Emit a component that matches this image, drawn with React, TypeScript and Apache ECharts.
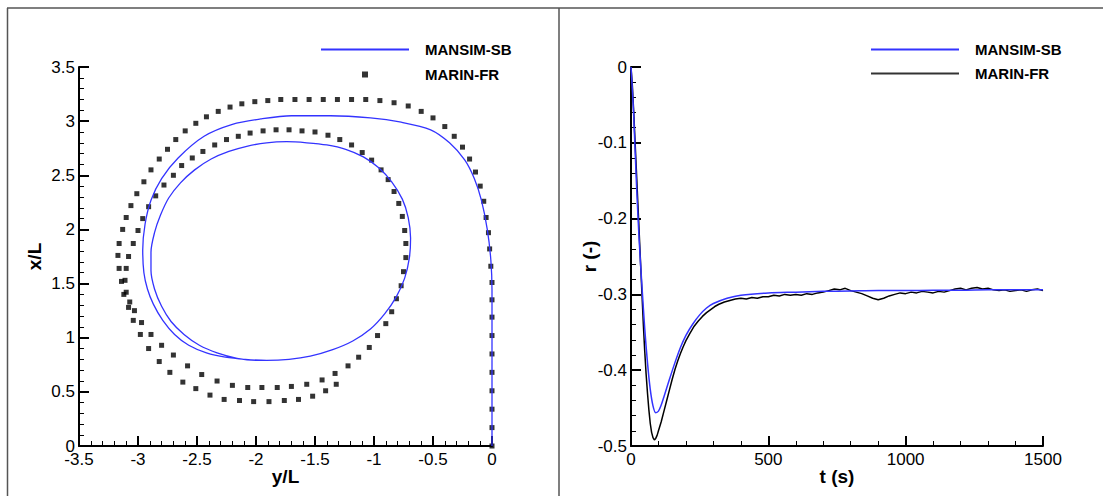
import React, { useEffect, useRef } from "react";
import * as echarts from "echarts";

// Left chart: turning circle trajectory, points as [y/L, x/L]
const mansimTraj: number[][] = [
  [0, 0], [0, 0.3], [0, 0.6], [0, 0.9], [0, 1.2], [0, 1.44], [-0.01, 1.72], [-0.04, 2.0], [-0.09, 2.27],
  [-0.15, 2.47], [-0.23, 2.64], [-0.36, 2.8], [-0.52, 2.92], [-0.77, 2.99], [-1.03, 3.03], [-1.37, 3.05],
  [-1.7, 3.05], [-1.96, 3.02], [-2.2, 2.97], [-2.44, 2.86], [-2.66, 2.66], [-2.8, 2.47], [-2.89, 2.27],
  [-2.94, 2.05], [-2.96, 1.81], [-2.95, 1.6], [-2.92, 1.45], [-2.87, 1.31], [-2.79, 1.16], [-2.69, 1.03],
  [-2.57, 0.93], [-2.42, 0.86], [-2.26, 0.82], [-2.09, 0.8], [-1.91, 0.79], [-1.72, 0.8], [-1.54, 0.83],
  [-1.35, 0.89], [-1.18, 0.97], [-1.03, 1.08], [-0.91, 1.22], [-0.81, 1.38], [-0.74, 1.55], [-0.7, 1.74],
  [-0.69, 1.92], [-0.71, 2.11], [-0.76, 2.28], [-0.85, 2.44], [-0.96, 2.57], [-1.09, 2.67], [-1.24, 2.74],
  [-1.4, 2.78], [-1.57, 2.8], [-1.74, 2.81], [-1.91, 2.8], [-2.07, 2.77], [-2.23, 2.72], [-2.38, 2.65],
  [-2.52, 2.55], [-2.64, 2.43], [-2.74, 2.29], [-2.81, 2.13], [-2.86, 1.97], [-2.89, 1.79], [-2.89, 1.62],
  [-2.86, 1.45], [-2.8, 1.29], [-2.72, 1.15], [-2.61, 1.03], [-2.48, 0.93], [-2.33, 0.86], [-2.16, 0.81],
  [-1.98, 0.79], [-1.82, 0.79],
];

const marinTrajOuter: number[][] = [
  [0, 0], [0, 0.17], [0, 0.34], [0, 0.51], [0, 0.68], [0, 0.85], [0, 1.02], [0, 1.19], [0, 1.35],
  [0, 1.51], [-0.01, 1.66], [-0.02, 1.82], [-0.03, 1.97], [-0.05, 2.11], [-0.07, 2.26], [-0.1, 2.4],
  [-0.14, 2.53], [-0.19, 2.65], [-0.25, 2.76], [-0.32, 2.86], [-0.4, 2.95], [-0.5, 3.03], [-0.6, 3.09],
  [-0.71, 3.14], [-0.83, 3.17], [-0.95, 3.19], [-1.07, 3.2], [-1.19, 3.2], [-1.31, 3.2], [-1.43, 3.2],
  [-1.55, 3.2], [-1.67, 3.2], [-1.79, 3.2], [-1.9, 3.19], [-2.01, 3.18], [-2.12, 3.16], [-2.22, 3.13],
  [-2.32, 3.09], [-2.42, 3.04], [-2.51, 2.98], [-2.6, 2.91], [-2.68, 2.83], [-2.75, 2.74], [-2.82, 2.65],
  [-2.89, 2.55], [-2.95, 2.44], [-3.01, 2.33], [-3.06, 2.22], [-3.1, 2.11], [-3.13, 2.0], [-3.16, 1.87],
  [-3.17, 1.76], [-3.16, 1.64], [-3.14, 1.52], [-3.12, 1.4], [-3.08, 1.28], [-3.04, 1.16], [-2.98, 1.03],
  [-2.91, 0.9], [-2.82, 0.78], [-2.73, 0.68], [-2.62, 0.59], [-2.51, 0.53], [-2.39, 0.47], [-2.27, 0.43],
  [-2.14, 0.42], [-2.02, 0.41], [-1.89, 0.41], [-1.76, 0.42], [-1.64, 0.43], [-1.52, 0.46], [-1.41, 0.51],
  [-1.32, 0.57],
];

const marinTrajInner: number[][] = [
  [-3.03, 1.25], [-2.97, 1.14], [-2.89, 1.03], [-2.8, 0.93], [-2.7, 0.84], [-2.58, 0.74], [-2.46, 0.66],
  [-2.33, 0.6], [-2.2, 0.56], [-2.07, 0.54], [-1.95, 0.54], [-1.82, 0.54], [-1.7, 0.55], [-1.57, 0.57],
  [-1.44, 0.61], [-1.33, 0.67], [-1.22, 0.74], [-1.13, 0.82], [-1.04, 0.91], [-0.97, 1.02], [-0.9, 1.13],
  [-0.85, 1.24], [-0.81, 1.36], [-0.77, 1.48], [-0.75, 1.61], [-0.73, 1.74], [-0.73, 1.87], [-0.74, 1.99],
  [-0.76, 2.12], [-0.79, 2.24], [-0.83, 2.35], [-0.88, 2.46], [-0.94, 2.55], [-1.02, 2.64], [-1.1, 2.71],
  [-1.19, 2.78], [-1.29, 2.83], [-1.39, 2.87], [-1.5, 2.9], [-1.61, 2.91], [-1.72, 2.92], [-1.83, 2.92],
  [-1.94, 2.91], [-2.05, 2.89], [-2.15, 2.86], [-2.25, 2.83], [-2.35, 2.78], [-2.45, 2.72], [-2.54, 2.66],
  [-2.63, 2.59], [-2.7, 2.5], [-2.78, 2.41], [-2.85, 2.31], [-2.91, 2.21], [-2.96, 2.1], [-3.0, 1.99],
  [-3.04, 1.87], [-3.08, 1.75], [-3.1, 1.64], [-3.11, 1.53], [-3.1, 1.42], [-3.07, 1.33],
];

// Right chart: yaw rate r (-) vs time t (s)
const mansimT = [0, 5, 10, 20, 30, 40, 50, 60, 70, 80, 90, 100, 110, 120, 140, 160, 180, 200, 225, 250, 275, 300, 350, 400, 500, 600, 700, 800, 900, 1000, 1100, 1200, 1300, 1400, 1500];
const mansimR = [0, -0.03, -0.065, -0.155, -0.23, -0.29, -0.345, -0.39, -0.425, -0.447, -0.456, -0.454, -0.446, -0.435, -0.412, -0.39, -0.37, -0.354, -0.339, -0.327, -0.318, -0.312, -0.305, -0.301, -0.298, -0.297, -0.296, -0.2955, -0.295, -0.295, -0.2945, -0.2945, -0.294, -0.294, -0.294];

const marinT = [0, 5, 10, 15, 20, 25, 30, 35, 40, 45, 50, 55, 60, 65, 70, 75, 80, 85, 90, 95, 100, 110, 120, 130, 140, 150, 160, 170, 180, 190, 200, 215, 230, 245, 260, 275, 290, 305, 320, 340, 360, 380, 400,
  420, 440, 460, 480, 500, 520, 540, 560, 580, 600, 620, 640, 660, 680, 700, 720, 740, 760, 780, 800, 820, 840, 860, 880, 900, 920, 940, 960, 980, 1000,
  1020, 1040, 1060, 1080, 1100, 1120, 1140, 1160, 1180, 1200, 1220, 1240, 1260, 1280, 1300, 1320, 1340, 1360, 1380, 1400, 1420, 1440, 1460, 1480, 1500];
const marinR = [0, -0.025, -0.06, -0.1, -0.14, -0.18, -0.22, -0.26, -0.3, -0.34, -0.375, -0.405, -0.43, -0.452, -0.47, -0.482, -0.489, -0.492, -0.49, -0.486, -0.48, -0.468, -0.454, -0.44, -0.426, -0.412, -0.399, -0.388, -0.378, -0.369, -0.361, -0.351, -0.342, -0.335, -0.329, -0.324, -0.32, -0.316, -0.313, -0.31, -0.308, -0.306, -0.305,
  -0.306, -0.304, -0.305, -0.303, -0.303, -0.301, -0.302, -0.3, -0.301, -0.3, -0.301, -0.299, -0.3, -0.298, -0.297, -0.295, -0.293, -0.294, -0.292, -0.295, -0.297, -0.299, -0.302, -0.305, -0.307, -0.305, -0.302, -0.3, -0.298, -0.299,
  -0.297, -0.298, -0.296, -0.297, -0.298, -0.296, -0.297, -0.295, -0.293, -0.292, -0.294, -0.292, -0.291, -0.293, -0.292, -0.294, -0.295, -0.294, -0.296, -0.295, -0.294, -0.296, -0.294, -0.293, -0.295];

const FONT = 'Arial, "Liberation Sans", Helvetica, sans-serif';
const BLUE = "#3333ff";

function axisCommon(extra: any, labelMargin: number) {
  return {
    type: "value",
    nameLocation: "middle",
    nameMoveOverlap: false,
    nameTextStyle: { fontSize: 19, fontWeight: "bold", color: "#000", fontFamily: FONT },
    axisLine: { show: true, onZero: false, lineStyle: { color: "#000", width: 2 } },
    axisTick: { show: true, inside: true, length: 10, lineStyle: { color: "#000", width: 2 } },
    minorTick: { show: true, splitNumber: 5, length: 5, lineStyle: { color: "#000", width: 1 } },
    splitLine: { show: false },
    minorSplitLine: { show: false },
    axisLabel: {
      fontSize: 17, color: "#000", fontFamily: FONT, margin: labelMargin,
      showMinLabel: true, showMaxLabel: true,
      formatter: (v: number) => String(Math.round(v * 100) / 100),
    },
    ...extra,
  };
}

export default function App() {
  const ref = useRef<HTMLDivElement>(null);
  useEffect(() => {
    if (!ref.current) return;
    const chart = echarts.init(ref.current, null, { renderer: "svg" });
    const legendText = { fontSize: 15, fontWeight: "bold", color: "#000", fontFamily: FONT, padding: [0, 0, 0, 11] };
    chart.setOption({
      animation: false,
      backgroundColor: "#fff",
      grid: [
        { left: 79, top: 67, width: 413, height: 379 },
        { left: 631, top: 67, width: 412, height: 379 },
      ],
      xAxis: [
        axisCommon({ gridIndex: 0, min: -3.5, max: 0, interval: 0.5, name: "y/L", nameGap: 21 }, 5),
        axisCommon({ gridIndex: 1, min: 0, max: 1500, interval: 500, name: "t (s)", nameGap: 21 }, 5),
      ],
      yAxis: [
        axisCommon({ gridIndex: 0, min: 0, max: 3.5, interval: 0.5, name: "x/L", nameGap: 35 }, 4),
        axisCommon({ gridIndex: 1, min: -0.5, max: 0, interval: 0.1, name: "r (-)", nameGap: 32 }, 4),
      ],
      legend: [
        { data: [{ name: "MANSIM-SB", icon: "rect" }], left: 321, top: 42, itemWidth: 88, itemHeight: 2, selectedMode: false, textStyle: legendText, padding: 0 },
        { data: [{ name: "MARIN-FR", icon: "rect" }], left: 362, top: 67, itemWidth: 6, itemHeight: 6, selectedMode: false, textStyle: { ...legendText, padding: [0, 0, 0, 52] }, padding: 0 },
        { data: [{ name: "MANSIM-SB", icon: "rect" }, { name: "MARIN-FR", icon: "rect" }], orient: "vertical", left: 871, top: 42, itemWidth: 88, itemHeight: 2, itemGap: 9, selectedMode: false, textStyle: legendText, padding: 0 },
      ],
      graphic: [
        { type: "line", shape: { x1: 7, y1: 8, x2: 1103, y2: 8 }, style: { stroke: "#555", lineWidth: 1.5 } },
        { type: "line", shape: { x1: 7.5, y1: 8, x2: 7.5, y2: 496 }, style: { stroke: "#555", lineWidth: 1.5 } },
        { type: "line", shape: { x1: 559, y1: 8, x2: 559, y2: 496 }, style: { stroke: "#555", lineWidth: 1.5 } },
      ],
      series: [
        { name: "MANSIM-SB", type: "line", xAxisIndex: 0, yAxisIndex: 0, data: mansimTraj, symbol: "none", smooth: 0.3, clip: false, lineStyle: { color: BLUE, width: 1.3 }, itemStyle: { color: BLUE } },
        { name: "MARIN-FR", type: "scatter", xAxisIndex: 0, yAxisIndex: 0, data: [...marinTrajOuter, ...marinTrajInner], symbol: "rect", symbolSize: 5, clip: false, itemStyle: { color: "#000" } },
        { name: "MANSIM-SB", type: "line", xAxisIndex: 1, yAxisIndex: 1, data: mansimT.map((t, i) => [t, mansimR[i]]), symbol: "none", smooth: 0.3, clip: false, lineStyle: { color: BLUE, width: 1.5 }, itemStyle: { color: BLUE }, z: 3 },
        { name: "MARIN-FR", type: "line", xAxisIndex: 1, yAxisIndex: 1, data: marinT.map((t, i) => [t, marinR[i]]), symbol: "none", clip: false, lineStyle: { color: "#000", width: 1.5 }, itemStyle: { color: "#000" }, z: 2 },
      ],
    });
    return () => chart.dispose();
  }, []);
  return <div ref={ref} style={{ position: "fixed", left: 0, top: 0, width: 1103, height: 496 }} />;
}
